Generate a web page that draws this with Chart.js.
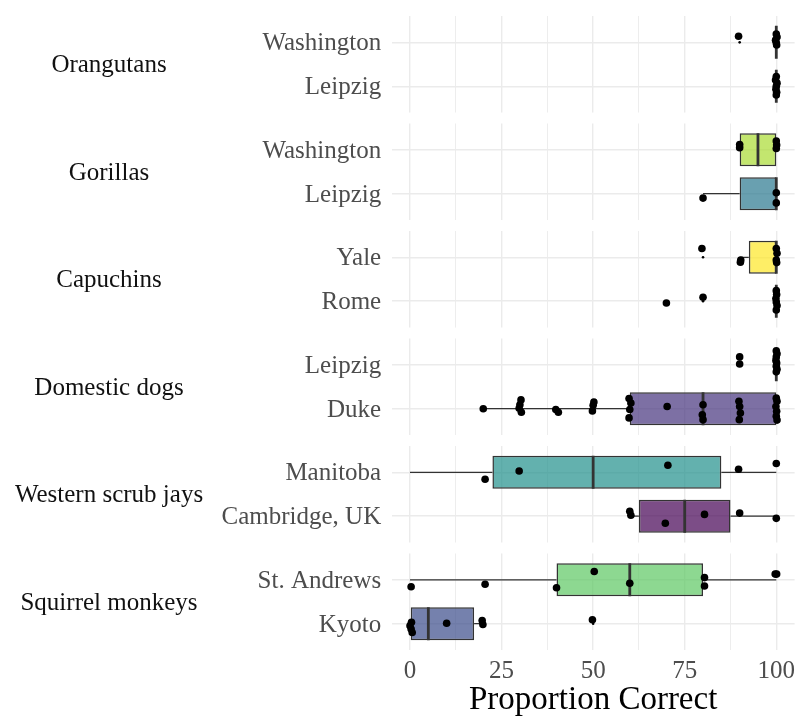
<!DOCTYPE html>
<html>
<head>
<meta charset="utf-8">
<script src="https://cdn.jsdelivr.net/npm/chart.js@4.4.1/dist/chart.umd.min.js"></script>
<style>
  html, body { margin: 0; padding: 0; background: #fff; }
  #wrap { width: 796px; height: 717px; }
  canvas { display: block; background: #fff; }
</style>
</head>
<body>
<div id="wrap"><canvas id="chart" width="796" height="717"></canvas></div>
<script>
// Species panels, top to bottom
const species = ['Orangutans', 'Gorillas', 'Capuchins', 'Domestic dogs', 'Western scrub jays', 'Squirrel monkeys'];

// Testing sites, two per species (upper row first)
const sites = ['Washington', 'Leipzig', 'Washington', 'Leipzig', 'Yale', 'Rome',
               'Leipzig', 'Duke', 'Manitoba', 'Cambridge, UK', 'St. Andrews', 'Kyoto'];

// Box-plot summaries per site (proportion correct, %)
const whiskerLow  = [100, 100,  90,  80,  90, 100, 100,  20,   0,   60,   0,    0];
const quartile1   = [100, 100,  90,  90, 92.5, 100, 100,  60, 22.5, 62.5,  40,    0];
const median      = [100, 100,  95, 100, 100, 100, 100,  80,  50,   75,  60,    5];
const quartile3   = [100, 100, 100, 100, 100, 100, 100, 100,  85, 87.5,  80, 17.5];
const whiskerHigh = [100, 100, 100, 100, 100, 100, 100, 100, 100,  100, 100,   20];

// Outlying values drawn by the box plot itself
const outliers = [[90], [], [], [], [80], [70, 80], [90], [], [], [], [], [50]];

// Individual animals: [proportion correct, vertical jitter in row units]
const scores = [
  [[89.7, -0.14], [100, -0.19], [100.2, -0.12], [99.8, -0.05], [100, 0.01], [100.1, 0.06]],
  [[100, -0.22], [99.8, -0.14], [100.2, -0.07], [100, 0.0], [99.9, 0.07], [100.1, 0.14], [100, 0.2]],
  [[90, -0.12], [90, -0.05], [100, -0.2], [100.1, -0.11], [100, -0.03]],
  [[80, 0.1], [100, -0.02], [100, 0.21]],
  [[79.7, -0.2], [90.3, 0.06], [90.2, 0.11], [100, -0.2], [100.2, -0.09], [100, 0.06], [100.1, 0.12]],
  [[70, 0.04], [80, -0.09], [100, -0.24], [100.1, -0.15], [99.9, -0.06], [100, 0.02], [100.2, 0.1], [100, 0.2]],
  [[90, -0.18], [90, -0.02], [100, -0.32], [100.2, -0.25], [100, -0.18], [99.9, -0.1], [100.1, -0.04], [100, 0.03], [100.2, 0.1], [100, 0.16]],
  [[20, 0], [30.3, -0.2], [30, -0.09], [29.8, -0.01], [30.4, 0.08], [39.8, 0.02], [40.5, 0.08],
   [50.2, -0.15], [50, -0.08], [49.8, 0.05], [59.8, -0.23], [60.3, -0.13], [60, 0.02], [59.8, 0.21],
   [70.2, -0.05], [80, -0.09], [79.8, 0.14], [80, 0.25], [89.8, -0.17], [90, -0.05], [90.2, 0.1], [89.9, 0.25],
   [100, -0.24], [100.2, -0.17], [99.9, -0.05], [100.1, 0.06], [100, 0.17], [100.2, 0.26]],
  [[20.5, 0.16], [29.8, -0.03], [70.4, -0.16], [89.7, -0.07], [100, -0.2]],
  [[60, -0.11], [60.3, -0.02], [69.7, 0.16], [80.4, -0.04], [90, -0.07], [100, 0.05]],
  [[0.3, 0.16], [20.5, 0.1], [40, 0.18], [50.3, -0.19], [60, 0.08], [80.4, -0.05], [80.4, 0.14], [99.7, -0.13], [100.1, -0.13]],
  [[0.4, -0.03], [0, 0.05], [0.3, 0.12], [0.6, 0.2], [10, -0.01], [19.7, -0.07], [19.9, 0.02], [49.8, -0.09]]
];

// Axis ticks: labelled majors and unlabelled minors
const xTicks = [0, 12.5, 25, 37.5, 50, 62.5, 75, 87.5, 100];
const xLabelled = [0, 25, 50, 75, 100];

// Box fills (viridis), one per site
const fills = ['#95D840', '#1F9E89', '#AADC32', '#2A788E', '#FDE725', '#31688E',
               '#482878', '#46337E', '#21908C', '#440154', '#5DC863', '#3A4C8A'];

// ---- layout of the faceted value axis (in row units) ----
const PANEL = 2.2;          // panel height: two rows plus 0.6 padding each side
const GAP = 0.25;           // white space between panels
const PITCH = PANEL + GAP;
const EDGE = 0.6;
const BOX = 0.75;           // box height as fraction of a row
const TOTAL = species.length * PANEL + (species.length - 1) * GAP;

const rowPos = sites.map((_, r) => Math.floor(r / 2) * PITCH + EDGE + (r % 2));
const panelMid = species.map((_, p) => p * PITCH + PANEL / 2);

function rgba(hex, a) {
  const n = parseInt(hex.slice(1), 16);
  return `rgba(${(n >> 16) & 255},${(n >> 8) & 255},${n & 255},${a})`;
}

// Datasets built from the arrays above
const boxData = sites.map((_, r) => ({ y: rowPos[r], x: [quartile1[r], quartile3[r]] }));

const whiskerData = [];
const medianData = [];
sites.forEach((_, r) => {
  const y = rowPos[r];
  if (whiskerLow[r] < quartile1[r]) {
    whiskerData.push({ x: whiskerLow[r], y }, { x: quartile1[r], y }, { x: null, y: null });
  }
  if (whiskerHigh[r] > quartile3[r]) {
    whiskerData.push({ x: quartile3[r], y }, { x: whiskerHigh[r], y }, { x: null, y: null });
  }
  medianData.push({ x: median[r], y: y - BOX / 2 }, { x: median[r], y: y + BOX / 2 }, { x: null, y: null });
});

const outlierData = [];
outliers.forEach((vals, r) => vals.forEach(v => outlierData.push({ x: v, y: rowPos[r] })));

const pointData = [];
scores.forEach((list, r) => list.forEach(([v, dy]) => pointData.push({ x: v, y: rowPos[r] + dy })));

// ---- fonts ----
const FAMILY = '"Liberation Serif", "Times New Roman", Times, serif';
Chart.defaults.font.family = FAMILY;
const LABEL_SIZE = 25;

// Width of the species label column, labels centred in it
const STRIP_W = 218;
const PLOT_LEFT = 391.7;
const probe = document.createElement('canvas').getContext('2d');
probe.font = `${LABEL_SIZE}px ${FAMILY}`;
const widestSpecies = Math.max(...species.map(s => probe.measureText(s).width));
const stripPad = STRIP_W - 109 - widestSpecies / 2;

// Vertical axes: fixed width, no extra padding for edge labels
function fixVertical(width) {
  return s => { s.width = width; s.paddingTop = 0; s.paddingBottom = 0; };
}

// Blank out the space between facet panels (grid lines stop at panel edges)
const panelGaps = {
  id: 'panelGaps',
  beforeDatasetsDraw(chart) {
    const { ctx, chartArea: a, scales: { y } } = chart;
    ctx.save();
    ctx.fillStyle = '#ffffff';
    for (let p = 1; p < species.length; p++) {
      const t = y.getPixelForValue(p * PITCH - GAP);
      const b = y.getPixelForValue(p * PITCH);
      ctx.fillRect(a.left - 2, t, a.right - a.left + 4, b - t);
    }
    ctx.restore();
  }
};

const GRID = '#ebebeb';
const INK = '#333333';

new Chart(document.getElementById('chart'), {
  type: 'bar',
  data: {
    datasets: [
      {
        type: 'scatter',
        data: pointData,
        pointRadius: 3.8,
        pointBackgroundColor: '#000',
        pointBorderWidth: 0,
        order: 0
      },
      {
        type: 'scatter',
        data: outlierData,
        pointRadius: 1.3,
        pointBackgroundColor: '#000',
        pointBorderWidth: 0,
        order: 1
      },
      {
        type: 'line',
        data: medianData,
        borderColor: INK,
        borderWidth: 2.8,
        borderCapStyle: 'butt',
        pointRadius: 0,
        spanGaps: false,
        order: 2
      },
      {
        type: 'bar',
        data: boxData,
        backgroundColor: fills.map(c => rgba(c, 0.7)),
        borderColor: INK,
        borderWidth: 1.5,
        borderSkipped: false,
        barPercentage: BOX,
        categoryPercentage: 1,
        order: 3
      },
      {
        type: 'line',
        data: whiskerData,
        borderColor: INK,
        borderWidth: 1.3,
        borderCapStyle: 'butt',
        pointRadius: 0,
        spanGaps: false,
        order: 4
      }
    ]
  },
  options: {
    indexAxis: 'y',
    responsive: false,
    animation: false,
    events: [],
    layout: { autoPadding: false, padding: { top: 16, right: 1.4, bottom: 0, left: 0 } },
    plugins: { legend: { display: false }, tooltip: { enabled: false } },
    scales: {
      x: {
        type: 'linear',
        position: 'bottom',
        min: -5,
        max: 105,
        offset: false,
        afterBuildTicks: s => { s.ticks = xTicks.map(v => ({ value: v })); },
        afterFit: s => { s.height = 67; s.paddingLeft = 0; s.paddingRight = 0; },
        ticks: {
          autoSkip: false,
          maxRotation: 0,
          padding: 6,
          color: '#4d4d4d',
          font: { size: LABEL_SIZE, lineHeight: 1.2 },
          callback: v => (xLabelled.includes(v) ? String(v) : '')
        },
        grid: {
          offset: false,
          drawTicks: false,
          color: GRID,
          lineWidth: ctx => (ctx.tick && xLabelled.includes(ctx.tick.value) ? 1.4 : 0.9)
        },
        border: { display: false },
        title: {
          display: true,
          text: 'Proportion Correct',
          color: '#000',
          font: { size: 33, lineHeight: 1 },
          padding: { top: 0, bottom: 0 }
        }
      },
      y: {
        type: 'linear',
        position: 'left',
        reverse: true,
        min: 0,
        max: TOTAL,
        offset: false,
        weight: 0,
        afterBuildTicks: s => { s.ticks = rowPos.map(v => ({ value: v })); },
        afterFit: fixVertical(PLOT_LEFT - STRIP_W),
        ticks: {
          autoSkip: false,
          padding: 10.5,
          labelOffset: 1.5,
          color: '#4d4d4d',
          font: { size: LABEL_SIZE },
          callback: v => {
            const r = rowPos.findIndex(p => Math.abs(p - v) < 1e-6);
            return r >= 0 ? sites[r] : '';
          }
        },
        grid: { offset: false, drawTicks: false, color: GRID, lineWidth: 1.4 },
        border: { display: false }
      },
      species: {
        type: 'linear',
        axis: 'y',
        position: 'left',
        reverse: true,
        min: 0,
        max: TOTAL,
        offset: false,
        weight: 1,
        afterBuildTicks: s => { s.ticks = panelMid.map(v => ({ value: v })); },
        afterFit: fixVertical(STRIP_W),
        ticks: {
          autoSkip: false,
          crossAlign: 'center',
          padding: stripPad,
          labelOffset: 1.5,
          color: '#111111',
          font: { size: LABEL_SIZE },
          callback: v => {
            const p = panelMid.findIndex(m => Math.abs(m - v) < 1e-6);
            return p >= 0 ? species[p] : '';
          }
        },
        grid: { display: false, offset: false, drawTicks: false },
        border: { display: false }
      }
    }
  },
  plugins: [panelGaps]
});
</script>
</body>
</html>
